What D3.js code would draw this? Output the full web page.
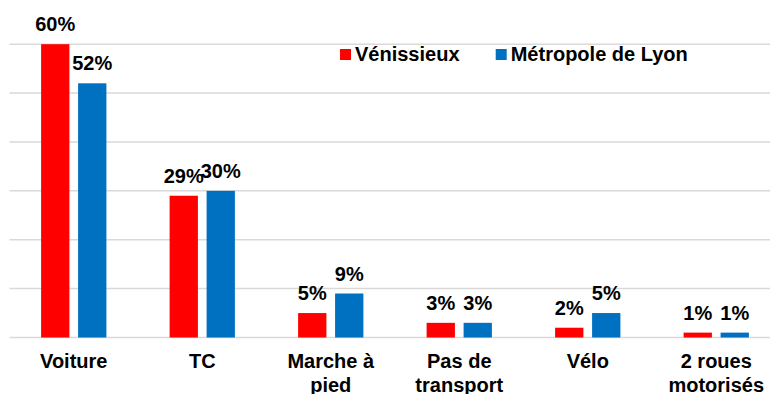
<!DOCTYPE html>
<html>
<head>
<meta charset="utf-8">
<script src="https://cdn.jsdelivr.net/npm/d3@7"></script>
<style>
  html, body { margin: 0; padding: 0; background: #fff; }
  svg { display: block; }
  text { font-family: "Liberation Sans", Arial, sans-serif; font-weight: bold; fill: #000; }
</style>
</head>
<body>
<svg id="chart" width="770" height="394"></svg>
<script>
// Modes de déplacement : parts modales (%)
const categories = ["Voiture", "TC", "Marche à pied", "Pas de transport", "Vélo", "2 roues motorisés"];
const seriesNames = ["Vénissieux", "Métropole de Lyon"];
const venissieux = [60, 29, 5, 3, 2, 1];
const metropole = [52, 30, 9, 3, 5, 1];
const gridTicks = [0, 10, 20, 30, 40, 50, 60];
const colors = ["#ff0000", "#0070c0"];

const values = [venissieux, metropole];
const rows = categories.map((c, i) => ({ category: c, values: values.map(s => s[i]) }));

const svg = d3.select("#chart");
const plot = { left: 9.5, right: 780.5, top: 44.2, bottom: 337.5 };

const x0 = d3.scaleBand().domain(categories).range([plot.left, plot.right]).paddingInner(0).paddingOuter(0);
const groupW = x0.bandwidth() * 0.508;
const x1 = d3.scaleBand().domain(seriesNames)
  .range([(x0.bandwidth() - groupW) / 2, (x0.bandwidth() + groupW) / 2])
  .paddingInner(0.235).paddingOuter(0);
const y = d3.scaleLinear().domain([0, 60]).range([plot.bottom, plot.top]);

// horizontal gridlines
svg.append("g").selectAll("line").data(gridTicks).join("line")
  .attr("x1", plot.left).attr("x2", 770)
  .attr("y1", d => y(d)).attr("y2", d => y(d))
  .attr("stroke", "#d9d9d9").attr("stroke-width", 1.5);

// bars
const groups = svg.append("g").selectAll("g").data(rows).join("g")
  .attr("transform", d => `translate(${x0(d.category)},0)`);

groups.selectAll("rect").data(d => d.values.map((v, k) => ({ v, k }))).join("rect")
  .attr("x", d => x1(seriesNames[d.k]))
  .attr("width", x1.bandwidth())
  .attr("y", d => y(d.v))
  .attr("height", d => y(0) - y(d.v))
  .attr("fill", d => colors[d.k]);

// value labels
groups.selectAll("text.val").data(d => d.values.map((v, k) => ({ v, k }))).join("text")
  .attr("class", "val")
  .attr("x", d => x1(seriesNames[d.k]) + x1.bandwidth() / 2)
  .attr("y", d => y(d.v) - 13)
  .attr("text-anchor", "middle")
  .attr("font-size", 20)
  .text(d => d.v + "%");

// category labels, wrapped to the band width
const xAxis = d3.axisBottom(x0).tickSize(0).tickPadding(0);
const axisG = svg.append("g").attr("transform", `translate(0,${plot.bottom})`).call(xAxis);
axisG.select(".domain").remove();
axisG.selectAll(".tick text")
  .attr("font-size", 20)
  .attr("font-family", null)
  .attr("fill", "#000")
  .attr("dy", null)
  .attr("y", 0)
  .each(function(label) {
    const t = d3.select(this);
    t.text(null);
    const words = label.split(" ");
    const lines = [];
    let line = [];
    const probe = t.append("tspan");
    words.forEach(w => {
      const test = line.concat(w).join(" ");
      probe.text(test);
      if (line.length && probe.node().getComputedTextLength() > 110) {
        lines.push(line.join(" "));
        line = [w];
      } else {
        line.push(w);
      }
    });
    lines.push(line.join(" "));
    probe.remove();
    lines.forEach((l, i) => {
      t.append("tspan").attr("x", 0).attr("y", 30 + i * 24).text(l);
    });
  });

// legend
const legendX = [340, 495.7];
const legend = svg.append("g").selectAll("g").data(seriesNames).join("g")
  .attr("transform", (d, i) => `translate(${legendX[i]},49)`);
legend.append("rect").attr("width", 11).attr("height", 11).attr("fill", (d, i) => colors[i]);
legend.append("text").attr("x", 15).attr("y", 11.7).attr("font-size", 20).text(d => d);
</script>
</body>
</html>
